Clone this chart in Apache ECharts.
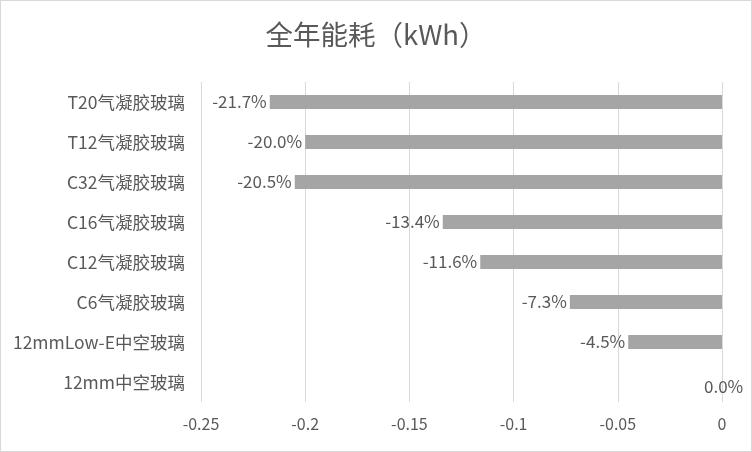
<!DOCTYPE html>
<html>
<head>
<meta charset="utf-8">
<script src="https://cdn.jsdelivr.net/npm/echarts@6/dist/echarts.min.js"></script>
<style>
html,body{margin:0;padding:0;background:#fff;}
#c{width:750px;height:450px;border:1px solid #d9d9d9;}
</style>
</head>
<body>
<div id="c"></div>
<script>
const categories = ['T20气凝胶玻璃','T12气凝胶玻璃','C32气凝胶玻璃','C16气凝胶玻璃','C12气凝胶玻璃','C6气凝胶玻璃','12mmLow-E中空玻璃','12mm中空玻璃'];
const values = [-0.217, -0.200, -0.205, -0.134, -0.116, -0.073, -0.045, 0];
const xTicks = {min: -0.25, max: 0, interval: 0.05};

const font = '"Noto Sans CJK SC", "Noto Sans", sans-serif';
const chart = echarts.init(document.getElementById('c'));
chart.setOption({
  animation: false,
  title: {
    text: '全年能耗（kWh）',
    left: 'center',
    top: 15,
    textStyle: {fontFamily: font, fontSize: 27.5, fontWeight: 'normal', color: '#595959'}
  },
  grid: {left: 200, right: 29, top: 81, bottom: 49, containLabel: false},
  xAxis: {
    type: 'value',
    min: xTicks.min, max: xTicks.max, interval: xTicks.interval,
    axisLine: {show: false},
    axisTick: {show: false},
    splitLine: {show: true, lineStyle: {color: '#d9d9d9', width: 1}},
    axisLabel: {fontFamily: font, fontSize: 16, color: '#595959', margin: 14}
  },
  yAxis: {
    type: 'category',
    data: categories,
    inverse: true,
    axisLine: {show: false},
    axisTick: {show: false},
    axisLabel: {fontFamily: font, fontSize: 17.5, color: '#595959', margin: 16}
  },
  series: [{
    type: 'bar',
    data: values.map(v => v === 0 ? {value: v, label: {position: 'right', offset: [-21, 5]}} : v),
    barWidth: 14,
    itemStyle: {color: '#a5a5a5'},
    label: {
      show: true,
      position: 'left',
      distance: 3,
      fontFamily: font,
      fontSize: 17,
      color: '#595959',
      formatter: p => (p.value * 100).toFixed(1) + '%'
    }
  }]
});
</script>
</body>
</html>
